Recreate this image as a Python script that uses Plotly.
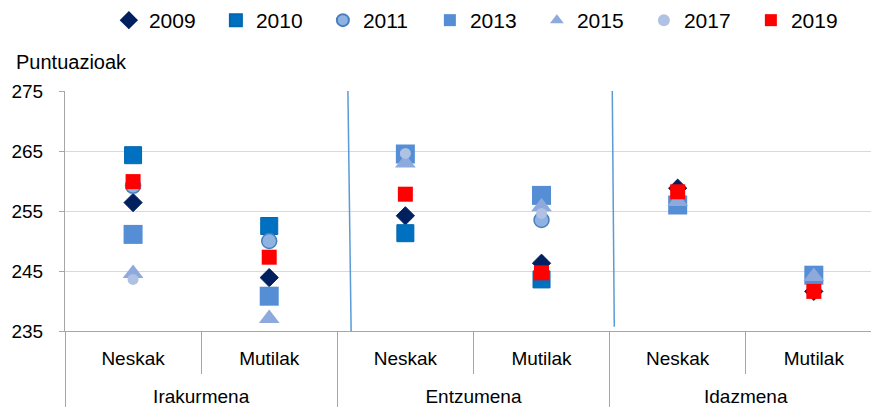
import plotly.graph_objects as go

# ---- data ----
groups = ["Irakurmena", "Irakurmena", "Entzumena", "Entzumena", "Idazmena", "Idazmena"]
genders = ["Neskak", "Mutilak", "Neskak", "Mutilak", "Neskak", "Mutilak"]
years = ["2009", "2010", "2011", "2013", "2015", "2017", "2019"]

v2009 = [256.4, 243.9, 254.2, 246.3, 258.8, 241.6]
v2010 = [264.3, 252.5, 251.3, 243.6, None, None]
v2011 = [259.2, 250.0, None, 253.5, None, None]
v2013 = [251.1, 240.8, 264.5, 257.6, 256.0, 244.3]
v2015 = [244.6, 237.1, 263.0, 255.7, 256.6, 244.1]
v2017 = [243.6, None, 264.6, 254.6, None, None]
v2019 = [259.9, 247.3, 257.8, 244.7, 258.2, 241.6]

y_ticks = [235, 245, 255, 265, 275]
y_title = "Puntuazioak"

series = [v2009, v2010, v2011, v2013, v2015, v2017, v2019]

styles = [
    dict(symbol="diamond", size=14, color="#002060", line=dict(color="#002060", width=1)),
    dict(symbol="square", size=17, color="#0070C0", line=dict(color="#0067B0", width=1)),
    dict(symbol="circle", size=15, color="#8DB3E2", line=dict(color="#4A7EBB", width=1.5)),
    dict(symbol="square", size=19, color="#558ED5", line=dict(color="#558ED5", width=0)),
    dict(symbol="triangle-up", size=18, color="#8EA9DB", line=dict(color="#8EA9DB", width=0)),
    dict(symbol="circle", size=11, color="#B0C2E4", line=dict(color="#B0C2E4", width=0)),
    dict(symbol="square", size=15, color="#FF0000", line=dict(color="#FF0000", width=0)),
]

FONT = "Liberation Sans, Arial, sans-serif"

# outer-level labels get a leading line break so they sit lower, as in the reference
group_labels = ["<br>" + g for g in groups]

fig = go.Figure()
for name, vals, st in zip(years, series, styles):
    fig.add_trace(go.Scatter(
        x=[group_labels, genders], y=vals, mode="markers", name=name,
        marker=st, cliponaxis=False,
    ))

fig.update_layout(
    width=871, height=410,
    margin=dict(l=65, r=0, t=91, b=79),
    plot_bgcolor="white", paper_bgcolor="white",
    font=dict(family=FONT, size=19, color="#000000"),
    showlegend=True,
    legend=dict(
        orientation="h", xref="container", yref="container",
        x=0.125, y=0.95, xanchor="left", yanchor="middle",
        font=dict(size=21), entrywidth=62, entrywidthmode="pixels",
        itemsizing="constant", itemclick=False, bgcolor="rgba(0,0,0,0)",
    ),
    xaxis=dict(
        type="multicategory", range=[-0.5, 5.42],
        showline=True, linecolor="#A6A6A6", linewidth=1,
        ticks="outside", tickson="boundaries", ticklen=42, tickcolor="#A6A6A6",
        showdividers=True, dividercolor="#A6A6A6", dividerwidth=1,
        showgrid=False, tickfont=dict(size=19), ticklabelstandoff=10,
    ),
    yaxis=dict(
        range=[235, 275], tickvals=y_ticks,
        showgrid=True, gridcolor="#D9D9D9", gridwidth=1,
        showline=True, linecolor="#A6A6A6", linewidth=1,
        ticks="outside", ticklen=5, tickcolor="#A6A6A6",
        zeroline=False, tickfont=dict(size=19), ticklabelstandoff=12,
    ),
    annotations=[dict(
        text=y_title, xref="paper", yref="paper", x=-0.063, y=1.121,
        xanchor="left", yanchor="middle", showarrow=False, font=dict(size=20),
    )],
    shapes=[
        dict(type="line", xref="paper", yref="y", x0=0.351, x1=0.355, y0=275, y1=235,
             line=dict(color="#5B9BD5", width=1.5)),
        dict(type="line", xref="paper", yref="y", x0=0.679, x1=0.6815, y0=275, y1=235.7,
             line=dict(color="#5B9BD5", width=1.5)),
    ],
)

fig.write_html("out.html", config={"displayModeBar": False},
               post_script="document.body.style.margin='0';")
